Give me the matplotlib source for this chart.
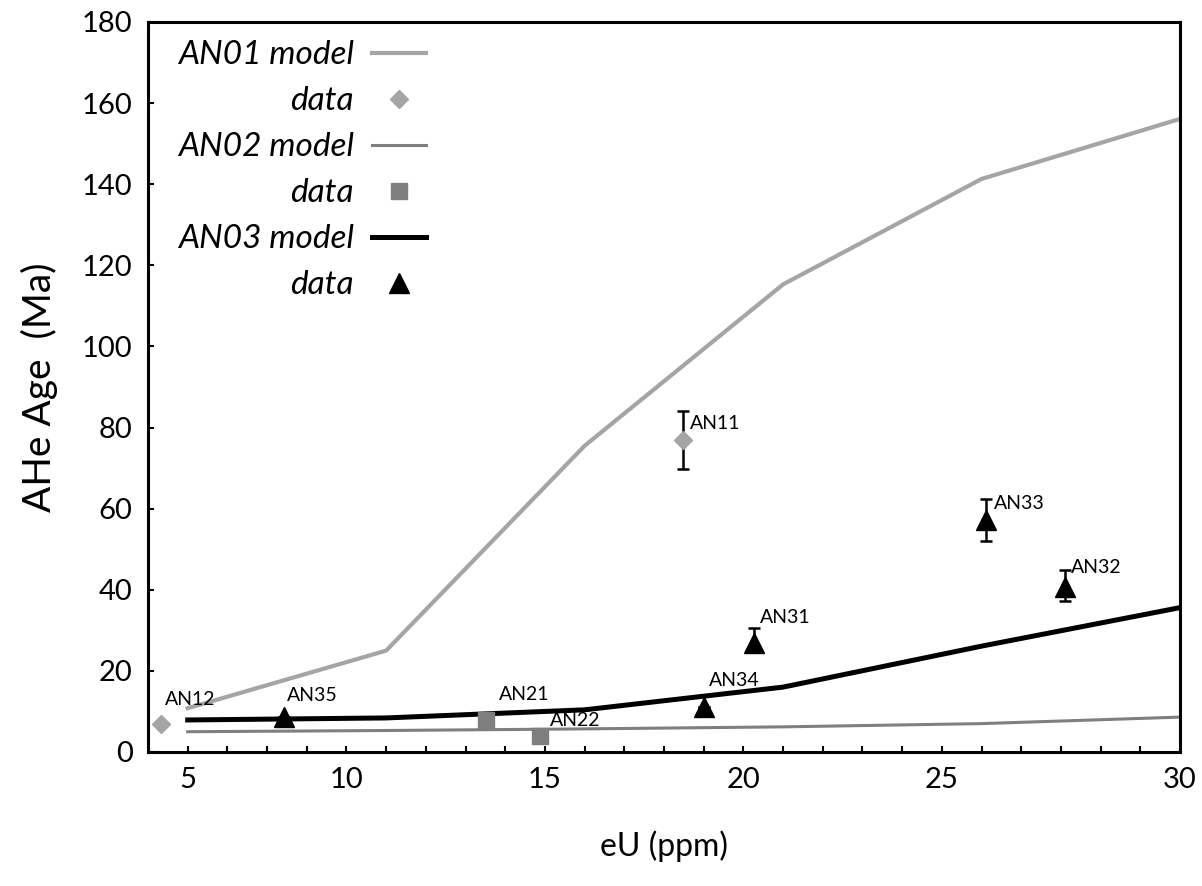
import numpy as np
import matplotlib.pyplot as plt
from matplotlib.ticker import FixedLocator

plt.rcParams['font.family'] = ['Lato', 'DejaVu Sans']

# model curves (eU, age)
model_eu = [5, 10, 15, 20, 25, 30]
an01_model = [10.8, 25.0, 75.5, 115.3, 141.3, 156.1]
an02_model = [5.0, 5.3, 5.7, 6.2, 7.0, 8.6]
an03_model = [7.9, 8.4, 10.4, 16.0, 26.1, 35.6]

# measured data
an01_names = ['AN12', 'AN11']
an01_eu = [4.32, 17.47]
an01_age = [6.9, 77.0]
an01_err_lo = [0.0, 7.1]
an01_err_hi = [0.0, 7.0]

an02_names = ['AN21', 'AN22']
an02_eu = [12.52, 13.87]
an02_age = [7.9, 3.9]

an03_names = ['AN35', 'AN34', 'AN31', 'AN33', 'AN32']
an03_eu = [7.42, 18.0, 19.28, 25.1, 27.1]
an03_age = [8.7, 11.2, 26.9, 57.2, 40.8]
an03_err_lo = [0.0, 0.0, 1.8, 5.1, 3.5]
an03_err_hi = [0.0, 0.0, 3.6, 5.3, 4.1]

# label offsets in points
label_off = {
    'AN12': (3, 18), 'AN11': (5, 11.5),
    'AN21': (9, 18), 'AN22': (7, 11),
    'AN35': (2, 15), 'AN34': (4, 19), 'AN31': (4, 18),
    'AN33': (6, 12), 'AN32': (4, 14),
}

tick_pos = list(range(5, 31))
tick_lab = {5: '5', 9: '10', 14: '15', 19: '20', 24: '25', 30: '30'}

c1 = '#a5a5a5'
c2 = '#7f7f7f'

fig = plt.figure(figsize=(12.02, 8.86), dpi=100)
ax = fig.add_axes([148 / 1202, 1 - 752 / 886, (1180 - 148) / 1202, (752 - 22) / 886])

ax.plot(model_eu, an01_model, color=c1, lw=3.0, label='AN01 model', zorder=2)
ax.plot([], [], ls='none', marker='D', ms=9.5, color=c1, label='data')
ax.plot(model_eu, an02_model, color=c2, lw=2.2, label='AN02 model', zorder=2)
ax.plot([], [], ls='none', marker='s', ms=11, color=c2, label='data')
ax.plot(model_eu, an03_model, color='black', lw=3.6, label='AN03 model', zorder=2)
ax.plot([], [], ls='none', marker='^', ms=14, color='black', label='data')

ax.errorbar(an01_eu, an01_age, yerr=[an01_err_lo, an01_err_hi], fmt='none',
            ecolor='black', elinewidth=1.8, capsize=4, capthick=1.8, zorder=3)
ax.errorbar(an03_eu, an03_age, yerr=[an03_err_lo, an03_err_hi], fmt='none',
            ecolor='black', elinewidth=1.8, capsize=4, capthick=1.8, zorder=3)

ax.plot(an01_eu, an01_age, ls='none', marker='D', ms=9.5, color=c1, zorder=4)
ax.plot(an02_eu, an02_age, ls='none', marker='s', ms=11, color=c2, zorder=4)
ax.plot(an03_eu, an03_age, ls='none', marker='^', ms=14, color='black', zorder=4)

for names, xs, ys in [(an01_names, an01_eu, an01_age),
                      (an02_names, an02_eu, an02_age),
                      (an03_names, an03_eu, an03_age)]:
    for n, x, y in zip(names, xs, ys):
        ax.annotate(n, (x, y), xytext=label_off[n], textcoords='offset points',
                    ha='left', va='center', fontsize=14, zorder=5)

ax.set_xlim(4, 30)
ax.set_ylim(0, 180)
ax.xaxis.set_major_locator(FixedLocator(tick_pos))
ax.set_xticklabels([tick_lab.get(t, '') for t in tick_pos])
ax.set_yticks(np.arange(0, 181, 20))

for s in ax.spines.values():
    s.set_linewidth(2.2)
ax.tick_params(axis='x', direction='in', length=4, width=1.5, pad=11, labelsize=21)
ax.tick_params(axis='y', direction='in', length=4.5, width=1.5, pad=11, labelsize=21)

ax.set_xlabel('eU (ppm)', fontsize=23, labelpad=27)
ax.set_ylabel('AHe Age  (Ma)', fontsize=28, labelpad=17)

leg = ax.legend(loc='upper left', bbox_to_anchor=(0.016, 0.993), borderaxespad=0,
                frameon=False, markerfirst=False, numpoints=1,
                prop={'style': 'italic', 'size': 24}, handlelength=1.6,
                handletextpad=0.55, labelspacing=0.48)

fig.savefig('out.png', dpi=100)
